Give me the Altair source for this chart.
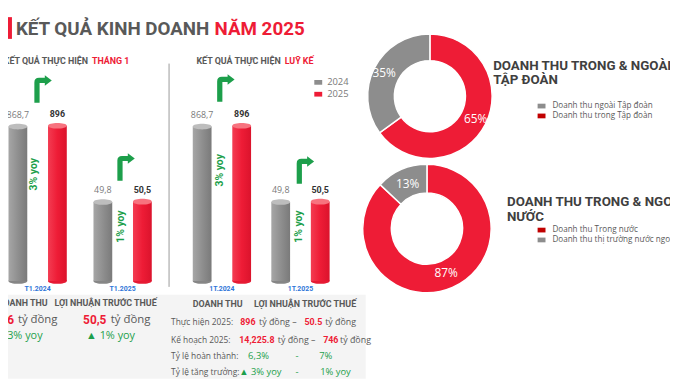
import altair as alt
import pandas as pd

# ---------------- values ----------------
YEARS = ["2024", "2025"]
MONTH_CATS = ["T1.2024", "T1.2025"]
MONTH_2024 = [868.7, 49.8]
MONTH_2025 = [896, 50.5]
YTD_CATS = ["1T.2024", "1T.2025"]
YTD_2024 = [868.7, 49.8]
YTD_2025 = [896, 50.5]
YOY_LABELS = ["3% yoy", "1% yoy"]

GROUP_SEGMENTS = ["Doanh thu trong Tập đoàn", "Doanh thu ngoài Tập đoàn"]
GROUP_SHARES = [65, 35]
MARKET_SEGMENTS = ["Doanh thu Trong nước", "Doanh thu thị trường nước ngoài"]
MARKET_SHARES = [87, 13]

TITLE = ["KẾT QUẢ KINH DOANH", "NĂM 2025"]
SUB_MONTH = ["KẾT QUẢ THỰC HIỆN", "THÁNG 1"]
SUB_YTD = ["KẾT QUẢ THỰC HIỆN", "LUỸ KẾ"]
GROUP_TITLE = ["DOANH THU TRONG & NGOÀI", "TẬP ĐOÀN"]
MARKET_TITLE = ["DOANH THU TRONG & NGOÀI", "NƯỚC"]
GROUP_LEGEND = ["Doanh thu ngoài Tập đoàn", "Doanh thu trong Tập đoàn"]
MARKET_LEGEND = ["Doanh thu Trong nước", "Doanh thu thị trường nước ngoài"]

KPI_HEADS = ["DOANH THU", "LỢI NHUẬN TRƯỚC THUẾ"]
KPI_VALUES = ["896", "50,5"]
KPI_UNIT = "tỷ đồng"
KPI_YOY = ["▲ 3% yoy", "▲ 1% yoy"]

ROW_LABELS = ["Thực hiện 2025:", "Kế hoạch 2025:", "Tỷ lệ hoàn thành:", "Tỷ lệ tăng trưởng:"]
ROW_REVENUE = ["896", "14,225.8", "6,3%", "▲ 3% yoy"]
ROW_PROFIT = ["50.5", "746", "7%", "1% yoy"]
ROW_JOIN = ["tỷ đồng –", "-"]

# ---------------- styles ----------------
W, H = 670, 373
RED = "#ee1c36"
RED_CAP = "#f7737f"
GRAY = "#8d8d8d"
GRAY_CAP = "#bdbdbd"
DARK_RED = "#c00000"
GREEN = "#1d9f4b"
TXT = "#595959"
BLUE = "#2f75d8"
HEAD = "Roboto"
BODY = "Open Sans"

GRAD_GRAY = alt.Gradient(gradient="linear", x1=0, x2=1, y1=0, y2=0, stops=[
    alt.GradientStop(color="#a6a6a6", offset=0),
    alt.GradientStop(color="#8f8f8f", offset=0.5),
    alt.GradientStop(color="#7a7a7a", offset=1)])
GRAD_RED = alt.Gradient(gradient="linear", x1=0, x2=1, y1=0, y2=0, stops=[
    alt.GradientStop(color="#f33c52", offset=0),
    alt.GradientStop(color="#ee1c36", offset=0.5),
    alt.GradientStop(color="#db132c", offset=1)])

ELLIPSE = "M-1,0C-1,-0.4,1,-0.4,1,0C1,0.4,-1,0.4,-1,0Z"
ARROW = ("M-0.6,1L-0.6,-0.4Q-0.6,-0.72,-0.28,-0.72L0.12,-0.72L0.12,-0.9L0.6,-0.54"
         "L0.12,-0.18L0.12,-0.36L-0.24,-0.36L-0.24,1Z")
SWATCH = "M-1,-0.6L1,-0.6L1,0.6L-1,0.6Z"

one = pd.DataFrame({"k": [0]})


def text(s, x, y, size=9, color=TXT, weight="normal", align="left", font=BODY, angle=0):
    return alt.Chart(pd.DataFrame({"t": [s]})).mark_text(
        align=align, baseline="middle", fontSize=size, color=color,
        fontWeight=weight, font=font, angle=angle,
    ).encode(x=alt.value(x), y=alt.value(y), text="t:N")


def arrow(x, y):
    return alt.Chart(one).mark_point(
        shape=ARROW, filled=True, size=864, color=GREEN, opacity=1, strokeWidth=0
    ).encode(x=alt.value(x), y=alt.value(y))


def swatch(x, y, color):
    return alt.Chart(one).mark_point(
        shape=SWATCH, filled=True, size=64, color=color, opacity=1, strokeWidth=0
    ).encode(x=alt.value(x), y=alt.value(y))


def bar_panel(cats, v24, v25, xrange, pad_outer):
    df = pd.DataFrame({
        "cat": cats * 2,
        "year": [YEARS[0]] * len(cats) + [YEARS[1]] * len(cats),
        "value": list(v24) + list(v25),
    })
    df["label"] = df["value"].map(lambda v: f"{v:g}".replace(".", ","))
    xs = alt.Scale(domain=cats, range=xrange, paddingInner=0, paddingOuter=0)
    xo = alt.Scale(domain=YEARS, paddingInner=0.525, paddingOuter=pad_outer)
    ys = alt.Scale(type="log", domain=[2.5, 1000], range=[274, 114], nice=False)
    X = alt.X("cat:N", scale=xs, axis=None)
    XO = alt.XOffset("year:N", scale=xo)
    Y = alt.Y("value:Q", scale=ys, axis=None)
    base = alt.Chart(df)
    is24 = alt.datum.year == YEARS[0]
    is25 = alt.datum.year == YEARS[1]
    bottom = base.mark_point(shape=ELLIPSE, filled=True, size=361, opacity=1, strokeWidth=0).encode(
        X, XO, y=alt.Y(datum=2.5, scale=ys, axis=None),
        color=alt.condition(is24, alt.value("#868686"), alt.value("#e61a33")),
    )
    bars24 = base.transform_filter(is24).mark_bar(color=GRAD_GRAY).encode(X, XO, Y, y2=alt.datum(2.5))
    bars25 = base.transform_filter(is25).mark_bar(color=GRAD_RED).encode(X, XO, Y, y2=alt.datum(2.5))
    caps = base.mark_point(shape=ELLIPSE, filled=True, size=361, opacity=1, strokeWidth=0).encode(
        X, XO, Y,
        color=alt.condition(is24, alt.value(GRAY_CAP), alt.value(RED_CAP)),
    )
    lab24 = base.transform_filter(is24).mark_text(
        dy=-12, fontSize=9, color="#7a7a7a", font=BODY
    ).encode(X, XO, Y, text="label:N")
    lab25 = base.transform_filter(is25).mark_text(
        dy=-12, fontSize=9, color="#333333", fontWeight="bold", font=HEAD
    ).encode(X, XO, Y, text="label:N")
    catlab = alt.Chart(pd.DataFrame({"cat": cats})).mark_text(
        fontSize=7, color=BLUE, fontWeight="bold", font=HEAD
    ).encode(X, y=alt.value(282), text="cat:N")
    return alt.layer(bottom, bars24, bars25, caps, lab24, lab25, catlab)


def donut(segments, shares, colors, cx, cy, r_out, r_in, r_lab):
    df = pd.DataFrame({"seg": segments, "share": shares, "ord": list(range(len(segments)))})
    df["pct"] = df["share"].map(lambda v: f"{v}%")
    th = alt.Theta("share:Q", stack=True)
    arc = alt.Chart(df).mark_arc(
        innerRadius=r_in, outerRadius=r_out, stroke="white", strokeWidth=1.5
    ).encode(
        theta=th,
        color=alt.Color("seg:N", scale=alt.Scale(domain=segments, range=colors), legend=None),
        order=alt.Order("ord:Q"),
        x=alt.value(cx), y=alt.value(cy),
    )
    lab = alt.Chart(df).mark_text(radius=r_lab, fontSize=12, color="white", font=BODY).encode(
        theta=th, order=alt.Order("ord:Q"), text="pct:N", x=alt.value(cx), y=alt.value(cy)
    )
    return alt.layer(arc, lab)


layers = []

# bottom band + separators
layers.append(alt.Chart(one).mark_rect(color="#f4f4f4").encode(
    x=alt.value(0), x2=alt.value(362), y=alt.value(288), y2=alt.value(H)))
layers.append(alt.Chart(one).mark_rule(color="#9a9a9a", strokeWidth=1).encode(
    x=alt.value(163), y=alt.value(54), y2=alt.value(280)))

# main title
layers.append(alt.Chart(one).mark_rect(color=RED).encode(
    x=alt.value(0), x2=alt.value(4), y=alt.value(7), y2=alt.value(29)))
layers.append(text(TITLE[0], 8, 19, 19, TXT, "bold", "left", HEAD))
layers.append(text(TITLE[1], 209, 19, 19, RED, "bold", "left", HEAD))

# panel subtitles
layers.append(text(SUB_MONTH[0], 81, 51, 9, TXT, "bold", "right", HEAD))
layers.append(text(SUB_MONTH[1], 85, 51, 9, RED, "bold", "left", HEAD))
layers.append(text(SUB_YTD[0], 276, 51, 9, TXT, "bold", "right", HEAD))
layers.append(text(SUB_YTD[1], 280, 51, 9, RED, "bold", "left", HEAD))

# bar panels
layers.append(bar_panel(MONTH_CATS, MONTH_2024, MONTH_2025, [-13, 159], 0.3375))
layers.append(bar_panel(YTD_CATS, YTD_2024, YTD_2025, [176.75, 335.75], 0.256))

# arrows and yoy texts
for (ax, ay) in [(35.5, 79), (119.5, 158), (220.5, 78), (301, 161)]:
    layers.append(arrow(ax, ay))
for (tx, ty, s) in [(26, 166, YOY_LABELS[0]), (114, 219, YOY_LABELS[1]),
                    (215, 162, YOY_LABELS[0]), (295, 219, YOY_LABELS[1])]:
    layers.append(text(s, tx, ty, 10.5, GREEN, "bold", "center", HEAD, 270))

# bar legend
layers.append(swatch(314, 73, GRAY))
layers.append(swatch(314, 85, RED))
layers.append(text(YEARS[0], 323, 73, 9.5, "#7a7a7a"))
layers.append(text(YEARS[1], 323, 85, 9.5, "#7a7a7a"))

# donuts
layers.append(donut(GROUP_SEGMENTS, GROUP_SHARES, [RED, GRAY], 427, 87, 63, 36, 52))
layers.append(donut(MARKET_SEGMENTS, MARKET_SHARES, [RED, GRAY], 424, 221, 65, 36, 49))

layers.append(text(GROUP_TITLE[0], 491, 56, 13.5, "#3f3f3f", "bold", "left", HEAD))
layers.append(text(GROUP_TITLE[1], 491, 71, 13.5, "#3f3f3f", "bold", "left", HEAD))
layers.append(swatch(540, 97, GRAY))
layers.append(swatch(540, 107, DARK_RED))
layers.append(text(GROUP_LEGEND[0], 551, 97, 8.2, TXT))
layers.append(text(GROUP_LEGEND[1], 551, 107, 8.2, TXT))

layers.append(text(MARKET_TITLE[0], 505, 194, 13.5, "#3f3f3f", "bold", "left", HEAD))
layers.append(text(MARKET_TITLE[1], 505, 209, 13.5, "#3f3f3f", "bold", "left", HEAD))
layers.append(swatch(540, 222.5, DARK_RED))
layers.append(swatch(540, 232.5, GRAY))
layers.append(text(MARKET_LEGEND[0], 551, 222.5, 8.2, TXT))
layers.append(text(MARKET_LEGEND[1], 551, 232.5, 8.2, TXT))

# bottom-left KPIs
layers.append(text(KPI_HEADS[0], 40, 296, 9, TXT, "bold", "right", HEAD))
layers.append(text(KPI_HEADS[1], 47, 296, 9, TXT, "bold", "left", HEAD))
layers.append(text(KPI_VALUES[0], 6, 314, 12, RED, "bold", "right", HEAD))
layers.append(text(KPI_UNIT, 10, 314, 11.5, TXT))
layers.append(text(KPI_VALUES[1], 76, 314, 12, RED, "bold", "left", HEAD))
layers.append(text(KPI_UNIT, 104, 314, 11.5, TXT))
layers.append(text(KPI_YOY[0], 35, 329.5, 11, GREEN, "normal", "right"))
layers.append(text(KPI_YOY[1], 79, 329.5, 11, GREEN, "normal", "left"))

# bottom-middle table
layers.append(text(KPI_HEADS[0], 187, 297, 9, TXT, "bold", "left", HEAD))
layers.append(text(KPI_HEADS[1], 249, 297, 9, TXT, "bold", "left", HEAD))
rows_y = [316, 334, 350, 366]
for i, ry in enumerate(rows_y):
    layers.append(text(ROW_LABELS[i], 165, ry, 8.5, TXT))
rev_x = [235, 234, 243, 234]
unit_x = [254, 273]
prof_x = [300, 319, 315, 316]
unit2_x = [321, 336]
for i, ry in enumerate(rows_y):
    if i < 2:
        layers.append(text(ROW_REVENUE[i], rev_x[i], ry, 9, RED, "bold", "left", HEAD))
        layers.append(text(ROW_JOIN[0], unit_x[i], ry, 9, TXT))
        layers.append(text(ROW_PROFIT[i], prof_x[i], ry, 9, RED, "bold", "left", HEAD))
        layers.append(text(KPI_UNIT, unit2_x[i], ry, 9, TXT))
    else:
        layers.append(text(ROW_REVENUE[i], rev_x[i], ry, 9.5, GREEN))
        layers.append(text(ROW_JOIN[1], 291, ry, 9.5, GREEN))
        layers.append(text(ROW_PROFIT[i], prof_x[i], ry, 9.5, GREEN))

chart = alt.layer(*layers).properties(
    width=W, height=H, autosize=alt.AutoSizeParams(type="none"), padding=0
).resolve_scale(
    x="independent", y="independent", xOffset="independent",
    color="independent", theta="independent"
).configure_view(strokeWidth=0)

chart.save("out.html", embed_options={"renderer": "svg", "actions": False})
